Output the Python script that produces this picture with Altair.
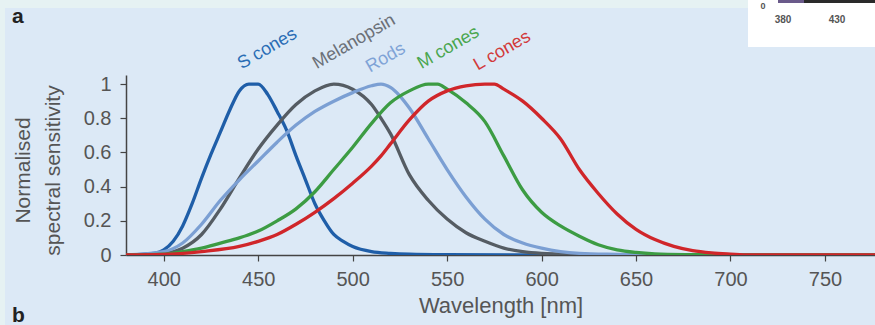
import altair as alt
import pandas as pd

# ---- data ----
s_nm = [380, 390, 395, 400, 405, 410, 415, 420, 425, 430, 435, 440, 445, 450, 455, 460, 465, 470, 475, 480, 485, 490, 495, 500, 510, 520, 530, 550, 600, 780]
s_val = [0.0, 0.005, 0.01, 0.03, 0.08, 0.17, 0.3, 0.45, 0.59, 0.72, 0.85, 0.96, 1.0, 1.0, 0.94, 0.84, 0.73, 0.58, 0.44, 0.3, 0.2, 0.12, 0.08, 0.05, 0.02, 0.01, 0.005, 0.002, 0.0, 0.0]

mel_nm = [380, 400, 410, 420, 430, 440, 450, 460, 470, 480, 490, 500, 510, 515, 520, 530, 540, 550, 560, 570, 580, 590, 600, 620, 640, 780]
mel_val = [0.0, 0.01, 0.04, 0.12, 0.27, 0.45, 0.62, 0.76, 0.88, 0.96, 1.0, 0.97, 0.88, 0.8, 0.71, 0.47, 0.32, 0.21, 0.13, 0.08, 0.04, 0.02, 0.01, 0.003, 0.0, 0.0]

rod_nm = [380, 400, 410, 420, 430, 440, 450, 460, 470, 480, 490, 500, 510, 515, 520, 525, 530, 540, 550, 560, 570, 580, 590, 600, 610, 620, 640, 660, 780]
rod_val = [0.0, 0.02, 0.07, 0.18, 0.32, 0.44, 0.55, 0.66, 0.76, 0.84, 0.9, 0.95, 0.99, 1.0, 0.98, 0.93, 0.86, 0.68, 0.5, 0.34, 0.21, 0.12, 0.07, 0.04, 0.02, 0.01, 0.004, 0.0, 0.0]

m_nm = [380, 400, 410, 420, 430, 440, 450, 460, 470, 480, 490, 500, 510, 520, 530, 540, 545, 550, 560, 570, 580, 590, 600, 610, 620, 630, 640, 650, 660, 680, 700, 780]
m_val = [0.0, 0.005, 0.02, 0.04, 0.07, 0.1, 0.14, 0.2, 0.27, 0.37, 0.5, 0.63, 0.77, 0.89, 0.96, 1.0, 1.0, 0.97, 0.89, 0.78, 0.58, 0.38, 0.25, 0.17, 0.11, 0.06, 0.03, 0.015, 0.007, 0.002, 0.0, 0.0]

l_nm = [380, 400, 420, 440, 450, 460, 470, 480, 490, 500, 510, 515, 520, 530, 540, 550, 560, 570, 575, 580, 590, 600, 610, 620, 630, 640, 650, 660, 670, 680, 690, 700, 710, 780]
l_val = [0.0, 0.003, 0.02, 0.05, 0.08, 0.12, 0.18, 0.25, 0.33, 0.42, 0.52, 0.58, 0.65, 0.79, 0.9, 0.96, 0.99, 1.0, 1.0, 0.97, 0.9, 0.8, 0.68, 0.5, 0.36, 0.24, 0.15, 0.09, 0.05, 0.025, 0.012, 0.005, 0.0, 0.0]

series_names = ["S cones", "Melanopsin", "Rods", "M cones", "L cones"]
series_nm = [s_nm, mel_nm, rod_nm, m_nm, l_nm]
series_val = [s_val, mel_val, rod_val, m_val, l_val]
line_colors = ["#1f5ea8", "#555c63", "#7b9fd3", "#3c9c43", "#d0262a"]
text_colors = ["#2a6db5", "#6b7078", "#7fa3d6", "#4aa64e", "#d23a3a"]

label_nm = [454.8, 500.7, 517.5, 550.7, 579.2]
label_val = [1.206, 1.247, 1.153, 1.212, 1.194]

x_ticks = [400, 450, 500, 550, 600, 650, 700, 750]
y_ticks = [0, 0.2, 0.4, 0.6, 0.8, 1]

FONT = "Liberation Sans"
W, H = 749, 180

x_scale = alt.Scale(domain=[380, 776.5], nice=False, zero=False)
y_scale = alt.Scale(domain=[0, 1.053], nice=False, zero=False)

x_axis = alt.Axis(
    values=x_ticks, title="Wavelength [nm]", grid=False, tickSize=6, labelPadding=8,
    labelFontSize=20, titleFontSize=22, titleFontWeight="normal", titlePadding=6,
    labelFont=FONT, titleFont=FONT, labelColor="#555555", titleColor="#555555",
    domainColor="#444444", tickColor="#444444", domainWidth=1.5, tickWidth=1.2,
    labelFlush=False, labelOverlap=False)
y_axis = alt.Axis(
    values=y_ticks, format="~g", title=["Normalised", "spectral sensitivity"], grid=False,
    tickSize=6, labelPadding=9, labelFontSize=20, titleFontSize=21, titleFontWeight="normal",
    labelFont=FONT, titleFont=FONT, labelColor="#555555", titleColor="#555555",
    domainColor="#444444", tickColor="#444444", domainWidth=1.5, tickWidth=1.2,
    titleAngle=270, titleAlign="center", titleBaseline="top", titleLineHeight=30,
    titleX=-114, titleY=95, labelFlush=False, labelOverlap=False)

one = pd.DataFrame({"k": [0]})


def rect(color, x, x2, y, y2):
    return alt.Chart(one).mark_rect(color=color).encode(
        x=alt.value(x), x2=alt.value(x2), y=alt.value(y), y2=alt.value(y2)
    )


def label(t, x, y, size, color, weight="normal", align="center"):
    return alt.Chart(one).mark_text(
        font=FONT, fontSize=size, fontWeight=weight, color=color,
        baseline="alphabetic", align=align
    ).encode(x=alt.value(x), y=alt.value(y), text=alt.value(t))


# lighter strips at the top/left edge and the fragment of the neighbouring figure
top_strip = rect("#e6f2f3", -126, W, -75, -67)
left_strip = rect("#e6f2f3", -126, -121, -75, H + 70)
white_box = rect("#ffffff", 622, W, -75, -28)
dark_bar = rect("#2a2a2a", 652, W, -75, -72)
purple_bar = rect("#6a5a8a", 652, 678, -75, -72)
box_texts = [
    label("0", 637, -66, 9, "#555555", "bold"),
    label("380", 657, -52, 10, "#555555", "bold"),
    label("430", 711, -52, 10, "#555555", "bold"),
]
letters = [
    label("a", -114, -52, 21, "#222222", "bold", "left"),
    label("b", -114, 247, 21, "#222222", "bold", "left"),
]

layers = [top_strip, left_strip, white_box, dark_bar, purple_bar] + box_texts + letters

for name, xs, ys, col in zip(series_names, series_nm, series_val, line_colors):
    d = pd.DataFrame({"nm": xs, "v": ys})
    layers.append(
        alt.Chart(d).mark_line(color=col, strokeWidth=3.3, interpolate="monotone", clip=True).encode(
            x=alt.X("nm:Q", scale=x_scale, axis=x_axis),
            y=alt.Y("v:Q", scale=y_scale, axis=y_axis),
        )
    )

lab_df = pd.DataFrame({"name": series_names, "nm": label_nm, "v": label_val, "col": text_colors})
labels = alt.Chart(lab_df).mark_text(
    font=FONT, fontSize=18, angle=330, align="center", baseline="middle"
).encode(
    x=alt.X("nm:Q", scale=x_scale, axis=x_axis),
    y=alt.Y("v:Q", scale=y_scale, axis=y_axis),
    text="name:N",
    color=alt.Color("col:N", scale=None),
)
layers.append(labels)

chart = alt.layer(*layers).properties(
    width=W, height=H,
    padding={"left": 126, "top": 75, "right": 0, "bottom": 70},
    autosize=alt.AutoSizeParams(type="none"),
    background="#dce9f6",
).configure_view(stroke=None)

chart.save("out.html", embed_options={"renderer": "svg", "actions": False})
